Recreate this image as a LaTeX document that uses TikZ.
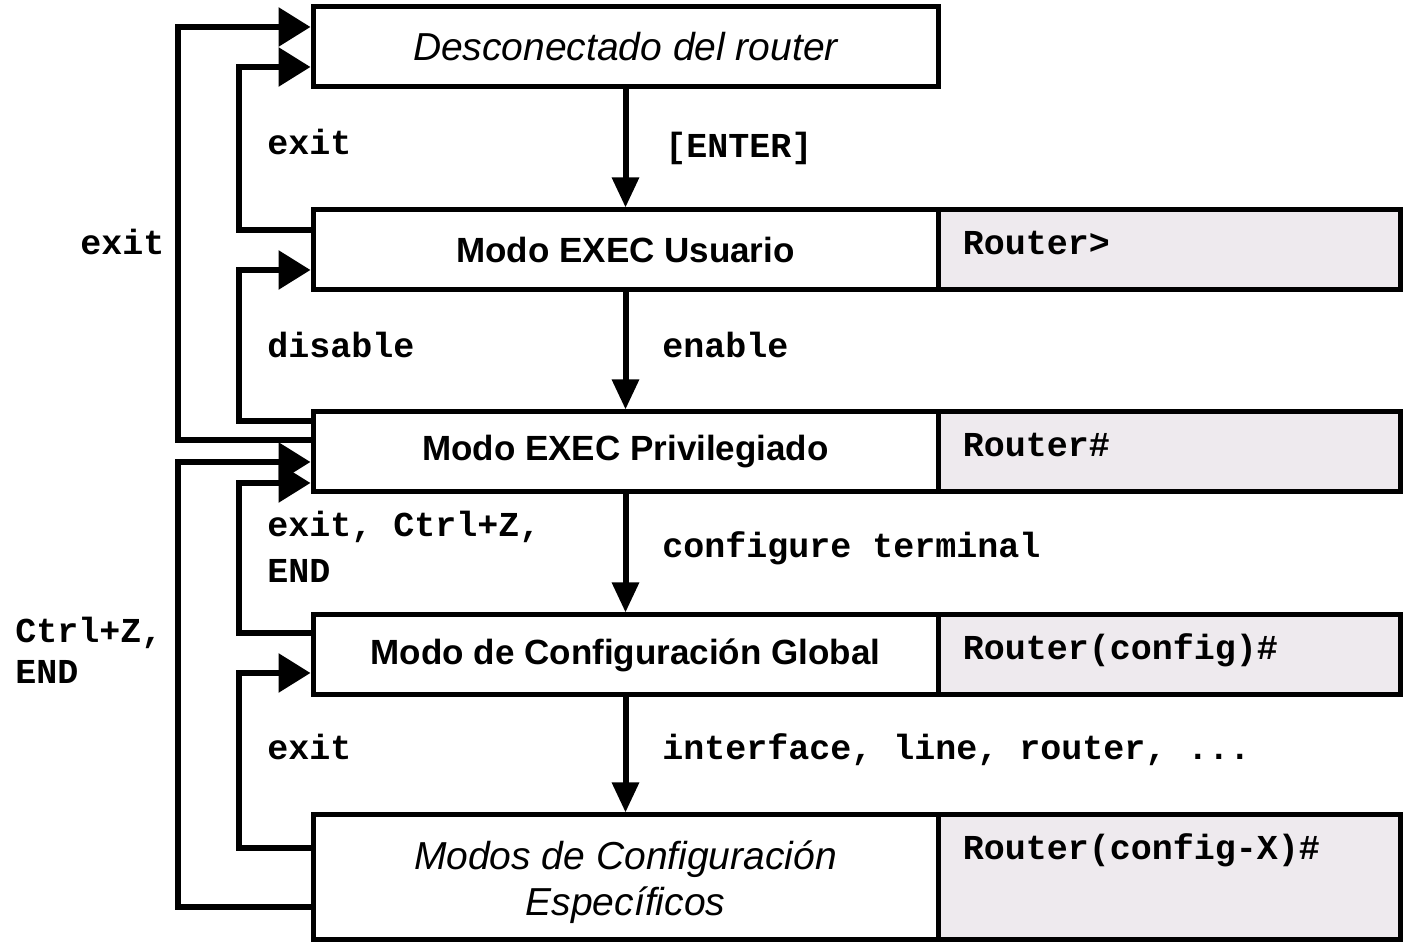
\documentclass[tikz,border=0pt]{standalone}
\usepackage{fontspec}
\setmainfont{Liberation Sans}
\setmonofont{Liberation Mono}
\usetikzlibrary{arrows.meta}
\definecolor{promptbg}{RGB}{238,234,238}
\begin{document}
\begin{tikzpicture}[x=0.5pt,y=-0.5pt,
  box/.style={draw,line width=2.5pt,minimum width=312.5pt,minimum height=40pt,
    inner sep=0pt,align=center,font=\fontsize{17.5}{23}\selectfont},
  ibox/.style={box,font=\itshape\fontsize{19.5}{23}\selectfont},
  prompt/.style={draw,fill=promptbg,line width=2.5pt,minimum width=231pt,
    minimum height=40pt,inner sep=0pt},
  ptext/.style={anchor=base west,inner sep=0pt,
    font=\ttfamily\bfseries\fontsize{17.5}{23}\selectfont},
  cmd/.style={anchor=base west,inner sep=0pt,align=left,
    font=\ttfamily\bfseries\fontsize{17.5}{23}\selectfont},
  conn/.style={line width=3pt},
  back/.style={conn,-{Triangle[length=16pt,width=19pt]}},
  down/.style={conn,-{Triangle[length=15pt,width=13pt]}},
]
\useasboundingbox (0,0) rectangle (1404,945);

% prompt cells on the right
\node[prompt] (r2) at (1169,250) {};
\node[prompt] (r3) at (1169,452) {};
\node[prompt] (r4) at (1169,655) {};
\node[prompt,minimum height=62.5pt] (r5) at (1169,877.5) {};

% mode boxes
\node[ibox] (b1) at (625.5,47) {Desconectado del router};
\node[box] (b2) at (625.5,250) {\bfseries Modo EXEC Usuario};
\node[box] (b3) at (625.5,452) {\bfseries Modo EXEC Privilegiado};
\node[box] (b4) at (625.5,655) {\bfseries Modo de Configuración Global};
\node[ibox,minimum height=62.5pt] (b5) at (625.5,877.5)
  {\rule{0pt}{19pt}Modos de Configuración\\Específicos};

% prompts
\node[ptext] (p2) at ([xshift=13.5pt,yshift=-23.5pt]r2.north west) {Router>};
\node[ptext] (p3) at ([xshift=13.5pt,yshift=-23.5pt]r3.north west) {Router\#};
\node[ptext] (p4) at ([xshift=13.5pt,yshift=-23.5pt]r4.north west) {Router(config)\#};
\node[ptext] (p5) at ([xshift=13.5pt,yshift=-23.5pt]r5.north west) {Router(config-X)\#};

% downward transitions
\draw[down] (b1.south) -- (b2.north);
\draw[down] (b2.south) -- (b3.north);
\draw[down] (b3.south) -- (b4.north);
\draw[down] (b4.south) -- (b5.north);

% return paths, inner column
\draw[back] ([yshift=10pt]b2.west) -- ++(-72,0) |- ([yshift=-10pt]b1.west);
\draw[back] ([yshift=15.5pt]b3.west) -- ++(-72,0) |- ([yshift=-10pt]b2.west);
\draw[back] ([yshift=11pt]b4.west) -- ++(-72,0) |- ([yshift=-15.5pt]b3.west);
\draw[back] ([yshift=14.75pt]b5.west) -- ++(-72,0) |- ([yshift=-9pt]b4.west);

% return paths, outer column
\draw[back] ([yshift=6pt]b3.west) -- ++(-133,0) |- ([yshift=10pt]b1.west);
\draw[back] ([yshift=-14.75pt]b5.west) -- ++(-133,0) |- ([yshift=-5pt]b3.west);

% command labels (base anchor sits on the last line)
\node[cmd] (lexit1) at (267,155) {exit};
\node[cmd] (lenter) at (665,158) {[ENTER]};
\node[cmd] (lexit2) at (80,255) {exit};
\node[cmd] (ldisable) at (267,358) {disable};
\node[cmd] (lenable) at (662,358) {enable};
\node[cmd] (lexitctrl) at (267,583) {exit, Ctrl+Z,\\END};
\node[cmd] (lconf) at (662,558) {configure terminal};
\node[cmd,font=\ttfamily\bfseries\fontsize{17.5}{20.5}\selectfont] (lctrl) at (15,684) {Ctrl+Z,\\END};
\node[cmd] (lexit3) at (267,760) {exit};
\node[cmd] (lif) at (662,760) {interface, line, router, ...};
\end{tikzpicture}
\end{document}
